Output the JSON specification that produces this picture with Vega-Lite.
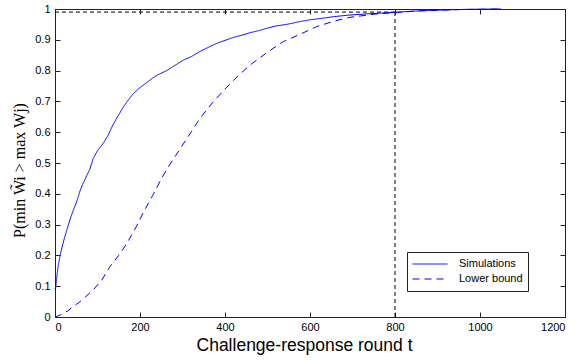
{
  "$schema": "https://vega.github.io/schema/vega-lite/v6.json",
  "autosize": {"type": "none"},
  "width": 510,
  "height": 308,
  "padding": {"left": 55, "top": 9, "right": 10, "bottom": 43},
  "background": "white",
  "config": {
    "view": {"stroke": "#222", "strokeWidth": 1},
    "font": "Liberation Sans",
    "axis": {"grid": false, "domain": false, "tickColor": "#222", "tickSize": -5, "labelFontSize": 11, "labelColor": "black", "labelFont": "Liberation Sans"}
  },
  "datasets": {
    "curves": [
      {"t": 0, "p": 0.09, "series": "Simulations"},
      {"t": 2, "p": 0.10, "series": "Simulations"},
      {"t": 5, "p": 0.14, "series": "Simulations"},
      {"t": 8, "p": 0.17, "series": "Simulations"},
      {"t": 12, "p": 0.20, "series": "Simulations"},
      {"t": 18, "p": 0.235, "series": "Simulations"},
      {"t": 25, "p": 0.27, "series": "Simulations"},
      {"t": 35, "p": 0.315, "series": "Simulations"},
      {"t": 43, "p": 0.347, "series": "Simulations"},
      {"t": 50, "p": 0.37, "series": "Simulations"},
      {"t": 59, "p": 0.41, "series": "Simulations"},
      {"t": 65, "p": 0.43, "series": "Simulations"},
      {"t": 75, "p": 0.46, "series": "Simulations"},
      {"t": 82, "p": 0.48, "series": "Simulations"},
      {"t": 90, "p": 0.515, "series": "Simulations"},
      {"t": 100, "p": 0.54, "series": "Simulations"},
      {"t": 114, "p": 0.565, "series": "Simulations"},
      {"t": 125, "p": 0.59, "series": "Simulations"},
      {"t": 135, "p": 0.62, "series": "Simulations"},
      {"t": 145, "p": 0.645, "series": "Simulations"},
      {"t": 160, "p": 0.68, "series": "Simulations"},
      {"t": 170, "p": 0.70, "series": "Simulations"},
      {"t": 184, "p": 0.725, "series": "Simulations"},
      {"t": 200, "p": 0.745, "series": "Simulations"},
      {"t": 215, "p": 0.76, "series": "Simulations"},
      {"t": 224, "p": 0.77, "series": "Simulations"},
      {"t": 240, "p": 0.785, "series": "Simulations"},
      {"t": 263, "p": 0.80, "series": "Simulations"},
      {"t": 280, "p": 0.815, "series": "Simulations"},
      {"t": 302, "p": 0.834, "series": "Simulations"},
      {"t": 320, "p": 0.845, "series": "Simulations"},
      {"t": 341, "p": 0.862, "series": "Simulations"},
      {"t": 360, "p": 0.875, "series": "Simulations"},
      {"t": 380, "p": 0.888, "series": "Simulations"},
      {"t": 400, "p": 0.898, "series": "Simulations"},
      {"t": 420, "p": 0.908, "series": "Simulations"},
      {"t": 440, "p": 0.915, "series": "Simulations"},
      {"t": 459, "p": 0.923, "series": "Simulations"},
      {"t": 480, "p": 0.93, "series": "Simulations"},
      {"t": 498, "p": 0.937, "series": "Simulations"},
      {"t": 520, "p": 0.945, "series": "Simulations"},
      {"t": 545, "p": 0.95, "series": "Simulations"},
      {"t": 576, "p": 0.959, "series": "Simulations"},
      {"t": 600, "p": 0.965, "series": "Simulations"},
      {"t": 630, "p": 0.97, "series": "Simulations"},
      {"t": 655, "p": 0.975, "series": "Simulations"},
      {"t": 690, "p": 0.98, "series": "Simulations"},
      {"t": 733, "p": 0.984, "series": "Simulations"},
      {"t": 770, "p": 0.987, "series": "Simulations"},
      {"t": 796, "p": 0.989, "series": "Simulations"},
      {"t": 830, "p": 0.992, "series": "Simulations"},
      {"t": 870, "p": 0.995, "series": "Simulations"},
      {"t": 920, "p": 0.997, "series": "Simulations"},
      {"t": 970, "p": 0.999, "series": "Simulations"},
      {"t": 1050, "p": 1.0, "series": "Simulations"},
      {"t": 0, "p": 0, "series": "Lower bound"},
      {"t": 12, "p": 0.006, "series": "Lower bound"},
      {"t": 30, "p": 0.02, "series": "Lower bound"},
      {"t": 59, "p": 0.05, "series": "Lower bound"},
      {"t": 90, "p": 0.088, "series": "Lower bound"},
      {"t": 110, "p": 0.12, "series": "Lower bound"},
      {"t": 129, "p": 0.163, "series": "Lower bound"},
      {"t": 150, "p": 0.2, "series": "Lower bound"},
      {"t": 169, "p": 0.239, "series": "Lower bound"},
      {"t": 192, "p": 0.295, "series": "Lower bound"},
      {"t": 208, "p": 0.34, "series": "Lower bound"},
      {"t": 230, "p": 0.395, "series": "Lower bound"},
      {"t": 247, "p": 0.44, "series": "Lower bound"},
      {"t": 263, "p": 0.48, "series": "Lower bound"},
      {"t": 294, "p": 0.545, "series": "Lower bound"},
      {"t": 320, "p": 0.6, "series": "Lower bound"},
      {"t": 341, "p": 0.645, "series": "Lower bound"},
      {"t": 370, "p": 0.695, "series": "Lower bound"},
      {"t": 400, "p": 0.74, "series": "Lower bound"},
      {"t": 430, "p": 0.782, "series": "Lower bound"},
      {"t": 459, "p": 0.818, "series": "Lower bound"},
      {"t": 500, "p": 0.86, "series": "Lower bound"},
      {"t": 537, "p": 0.894, "series": "Lower bound"},
      {"t": 580, "p": 0.92, "series": "Lower bound"},
      {"t": 616, "p": 0.943, "series": "Lower bound"},
      {"t": 660, "p": 0.962, "series": "Lower bound"},
      {"t": 694, "p": 0.973, "series": "Lower bound"},
      {"t": 750, "p": 0.983, "series": "Lower bound"},
      {"t": 795, "p": 0.988, "series": "Lower bound"},
      {"t": 850, "p": 0.993, "series": "Lower bound"},
      {"t": 900, "p": 0.996, "series": "Lower bound"},
      {"t": 950, "p": 0.998, "series": "Lower bound"},
      {"t": 1000, "p": 0.999, "series": "Lower bound"},
      {"t": 1050, "p": 1.0, "series": "Lower bound"}
    ],
    "refs": [
      {"t": 0, "p": 0.99, "t2": 800, "p2": 0.99},
      {"t": 800, "p": 0, "t2": 800, "p2": 0.99}
    ]
  },
  "layer": [
    {
      "data": {"name": "refs"},
      "mark": {"type": "rule", "color": "black", "strokeDash": [4, 3], "strokeWidth": 1},
      "encoding": {
        "x": {"field": "t", "type": "quantitative", "scale": {"domain": [0, 1200], "nice": false},
          "axis": {"values": [0, 200, 400, 600, 800, 1000, 1200], "format": "d", "title": "Challenge-response round t", "titleFontSize": 17.5, "titleFontWeight": "normal", "titleFont": "Liberation Sans", "titleColor": "black", "titlePadding": 4, "titleX": 249, "labelPadding": 9}},
        "x2": {"field": "t2"},
        "y": {"field": "p", "type": "quantitative", "scale": {"domain": [0, 1], "nice": false},
          "axis": {"values": [0, 0.1, 0.2, 0.3, 0.4, 0.5, 0.6, 0.7, 0.8, 0.9, 1], "format": "~g", "title": "P(min W̃i > max Wj)", "titleFont": "Liberation Serif", "titleFontSize": 16, "titleFontWeight": "normal", "titleColor": "black", "titleX": -28, "titleY": 161, "titleAlign": "center", "labelPadding": 10}},
        "y2": {"field": "p2"}
      }
    },
    {
      "data": {"name": "refs"},
      "mark": {"type": "rule", "opacity": 0},
      "encoding": {
        "x": {"field": "t", "type": "quantitative", "axis": {"orient": "top", "values": [0, 200, 400, 600, 800, 1000, 1200], "labels": false, "title": null}},
        "y": {"field": "p", "type": "quantitative", "axis": {"orient": "right", "values": [0, 0.1, 0.2, 0.3, 0.4, 0.5, 0.6, 0.7, 0.8, 0.9, 1], "labels": false, "title": null}}
      }
    },
    {
      "data": {"name": "curves"},
      "mark": {"type": "line", "strokeWidth": 1, "interpolate": "linear"},
      "encoding": {
        "x": {"field": "t", "type": "quantitative", "axis": null},
        "y": {"field": "p", "type": "quantitative", "axis": null},
        "color": {"field": "series", "type": "nominal", "scale": {"domain": ["Simulations", "Lower bound"], "range": ["#0000ff", "#0000ff"]},
          "legend": {"orient": "none", "legendX": 352, "legendY": 243, "title": null, "symbolType": "stroke", "symbolSize": 1225, "symbolStrokeWidth": 1, "clipHeight": 14, "labelFontSize": 11, "labelFont": "Liberation Sans", "labelColor": "black", "labelOffset": 11, "labelExpr": "datum.label + '\u00a0\u00a0\u00a0\u00a0\u00a0'", "rowPadding": 1, "padding": 5, "fillColor": "white", "strokeColor": "#222", "cornerRadius": 0}},
        "strokeDash": {"field": "series", "type": "nominal", "scale": {"domain": ["Simulations", "Lower bound"], "range": [[1, 0], [7, 5]]}}
      }
    }
  ],
  "resolve": {"axis": {"x": "independent", "y": "independent"}}
}
